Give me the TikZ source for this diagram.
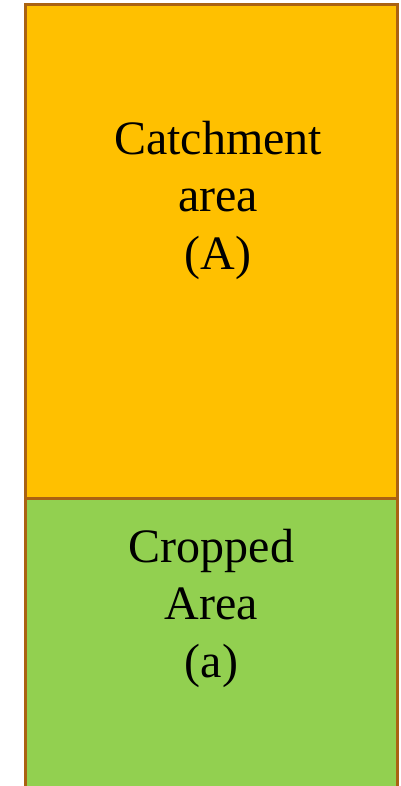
\documentclass[tikz,border=0pt]{standalone}
\usepackage{fontspec}
\setmainfont{Liberation Serif}
\definecolor{cCatch}{RGB}{255,192,0}
\definecolor{cCrop}{RGB}{146,208,80}
\definecolor{cEdge}{RGB}{170,98,18}

\begin{document}
\begin{tikzpicture}[
  x=1pt, y=-1pt,
  eg/.style   ={draw=cEdge, line width=3pt},
  lbl/.style  ={align=center, inner sep=0pt, anchor=north,
                font=\fontsize{48}{57.5}\selectfont},
]
\useasboundingbox (0,0) rectangle (401,786);

% ----- the two areas -----------------------------------------------------
\fill[cCatch] (25.5,4.5)   rectangle (397.5,498.5);
\fill[cCrop]  (25.5,498.5) rectangle (397.5,786);

% ----- outline, open at the foot -----------------------------------------
\draw[eg] (25.5,786) -- (25.5,4.5) -- (397.5,4.5) -- (397.5,786);
\draw[eg] (25.5,498.5) -- (397.5,498.5);

% ----- labels ------------------------------------------------------------
\node[lbl] (catch) at (218,120.5) {Catchment\\area\\(A)};
\node[lbl] (crop)  at (211.5,528.5) {Cropped\\Area\\(a)};

\end{tikzpicture}
\end{document}
